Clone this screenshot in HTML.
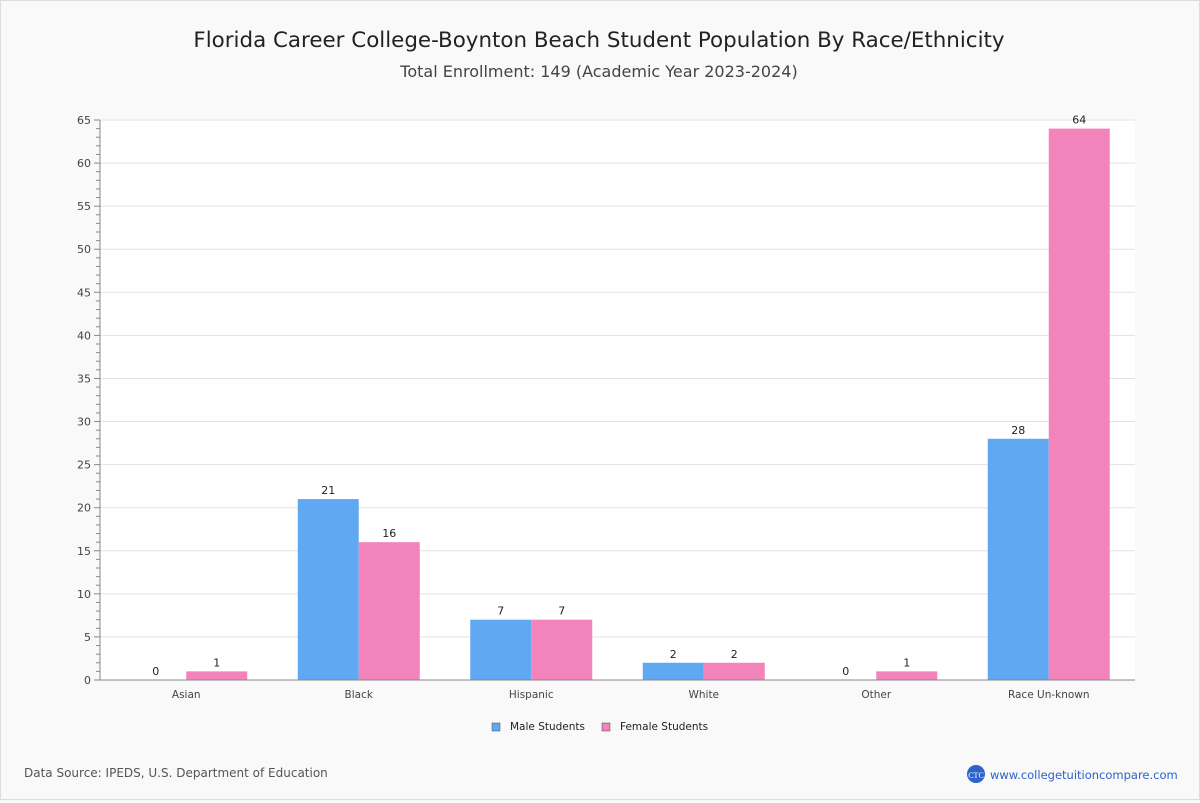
<!DOCTYPE html>
<html><head><meta charset="utf-8"><style>
body{margin:0;background:#f9f9f9;font-family:"DejaVu Sans","Liberation Sans",sans-serif}
#wrap{position:relative;width:1198px;height:798px;border:1px solid #ddd;background:#f9f9f9}
</style></head><body>
<div id="wrap">
<svg id="chart" width="1198" height="798" font-family="DejaVu Sans, Liberation Sans, sans-serif">
<text x="598" y="46" text-anchor="middle" font-size="21.4" fill="#222">Florida Career College-Boynton Beach Student Population By Race/Ethnicity</text>
<text x="598" y="76" text-anchor="middle" font-size="16" fill="#444">Total Enrollment: 149 (Academic Year 2023-2024)</text>
<rect x="99" y="119" width="1035" height="560" fill="#fff"/>
<g id="grid"></g><g id="bars"></g><g id="axes"></g>
<g>
<rect x="491" y="722" width="8" height="8" fill="#60a8f2" stroke="#444" stroke-width="0.5"/>
<text x="509" y="729" font-size="10.5" fill="#222">Male Students</text>
<rect x="601" y="722" width="8" height="8" fill="#f283bb" stroke="#444" stroke-width="0.5"/>
<text x="619" y="729" font-size="10.5" fill="#222">Female Students</text>
</g>
<text x="23" y="776" font-size="12" fill="#555">Data Source: IPEDS, U.S. Department of Education</text>
<circle cx="975" cy="773" r="9" fill="#2d62c9"/>
<text x="975" y="777" text-anchor="middle" font-size="8" fill="#fff" font-family="Liberation Serif, serif">CTC</text>
<text x="989" y="778" font-size="11.5" fill="#2d62c9">www.collegetuitioncompare.com</text>
</svg></div>
<script>
const categories=["Asian","Black","Hispanic","White","Other","Race Un-known"];
const maleValues=[0,21,7,2,0,28];
const femaleValues=[1,16,7,2,1,64];
const yTicks=[0,5,10,15,20,25,30,35,40,45,50,55,60,65];
const NS="http://www.w3.org/2000/svg";
const X0=99,X1=1134,Y0=679,Y1=119,YMAX=65;
const y=v=>Y0-(v/YMAX)*(Y0-Y1);
const bw=(X1-X0)/categories.length;
const xb=i=>X0+bw*i;
function mk(tag,attrs,parent){const e=document.createElementNS(NS,tag);for(const k in attrs)e.setAttribute(k,attrs[k]);parent.appendChild(e);return e;}
const grid=document.getElementById('grid'),bars=document.getElementById('bars'),axes=document.getElementById('axes');
yTicks.forEach(t=>{
 if(t>0){const g=mk('line',{x1:X0,x2:X1,y1:y(t),y2:y(t),stroke:'#e3e3e3'},grid);
 
 }
 const l=mk('text',{x:X0-9,y:y(t)+4,'text-anchor':'end','font-size':11,fill:'#444'},axes);l.textContent=t;
 
 
});
for(let v=0;v<=YMAX;v++){mk('line',{x1:v%5?X0-4:X0-6,x2:X0,y1:y(v),y2:y(v),stroke:'#888'},axes);}
mk('line',{x1:X0,x2:X0,y1:Y1,y2:Y0,stroke:'#888'},axes);
mk('line',{x1:X0,x2:X1,y1:Y0,y2:Y0,stroke:'#888'},axes);
const barW=61;
categories.forEach((c,i)=>{
 const cx=xb(i)+bw/2;
 [[maleValues[i],'#60a8f2',cx-barW,'male'],[femaleValues[i],'#f283bb',cx,'female']].forEach(([v,col,x,s])=>{
  const r=mk('rect',{x:x,y:y(v),width:barW,height:Y0-y(v),fill:col},bars);
  
  
  const t=mk('text',{x:x+barW/2,y:y(v)-5,'text-anchor':'middle','font-size':11,fill:'#222'},bars);t.textContent=v;
  
  
 });
 const xl=mk('text',{x:cx,y:Y0+18,'text-anchor':'middle','font-size':10.5,fill:'#444'},axes);xl.textContent=c;
 
 
});
</script>
</body></html>
